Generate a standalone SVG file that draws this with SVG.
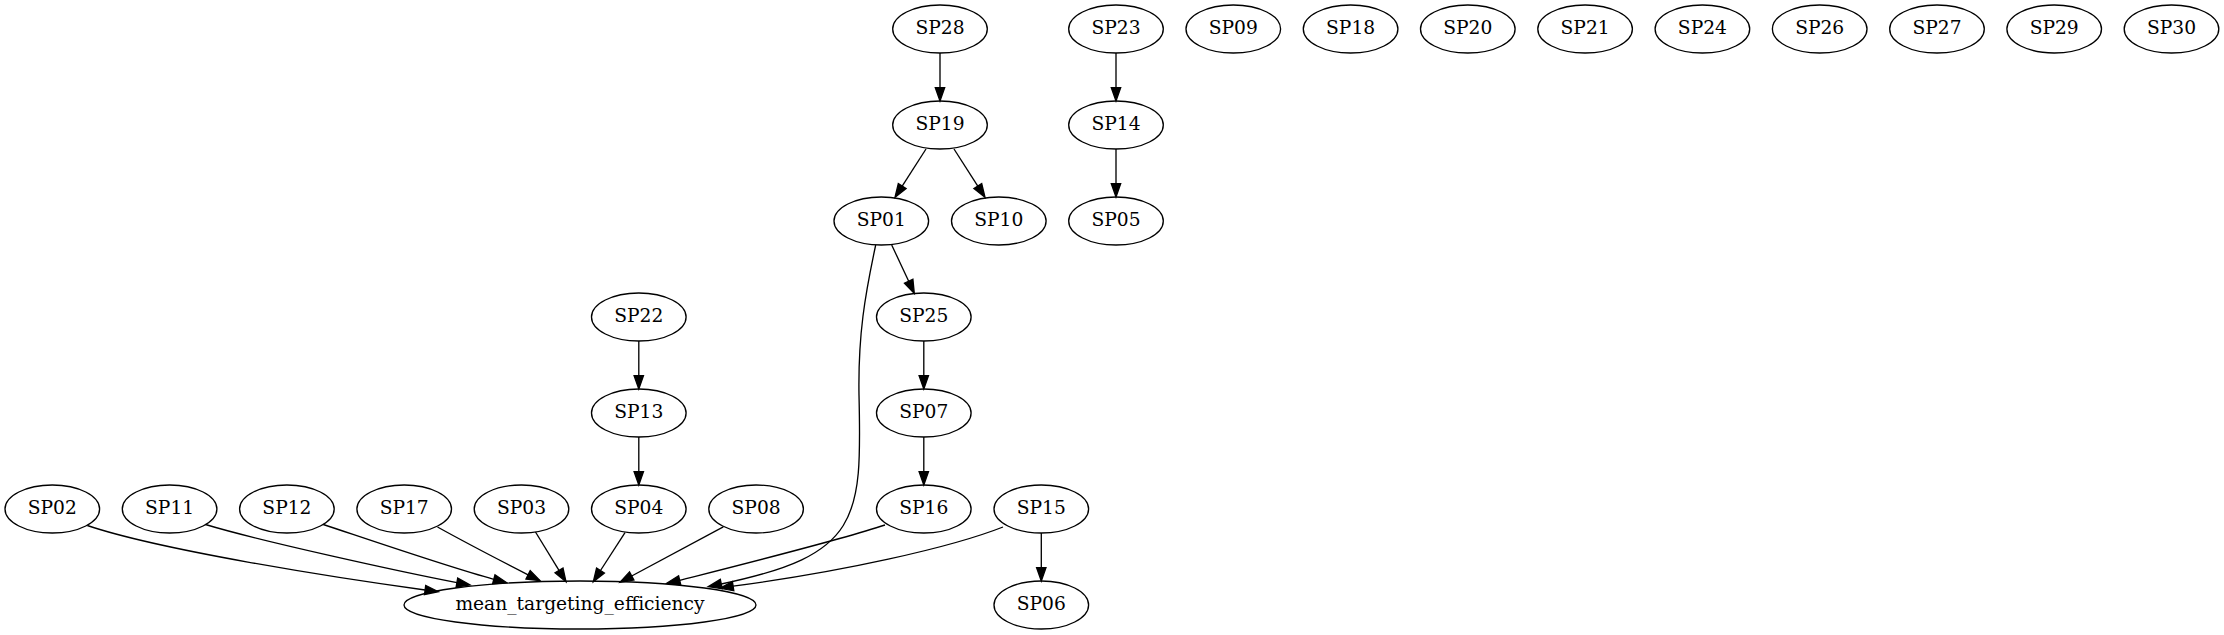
<svg xmlns="http://www.w3.org/2000/svg" width="2224" height="635" viewBox="0 0 2224 635">
<style>
.n ellipse{fill:none;stroke:#000;stroke-width:1.33}
.n text{font-family:"DejaVu Serif","Liberation Serif",serif;font-size:18.67px;text-anchor:middle;fill:#000}
#edges path{fill:none;stroke:#000;stroke-width:1.33}
#edges polygon{fill:#000;stroke:#000;stroke-width:1.33}
</style>
<rect x="0" y="0" width="2224" height="635" fill="#fff"/>
<g id="edges">
<path d="M940,53 L940,87.7"/><polygon points="935.33,87.7 940,101 944.67,87.7"/>
<path d="M1116,53 L1116,87.7"/><polygon points="1111.33,87.7 1116,101 1120.67,87.7"/>
<path d="M1116,149 L1116,183.7"/><polygon points="1111.33,183.7 1116,197 1120.67,183.7"/>
<path d="M926,149 L902.2,186.1"/><polygon points="898.3,183.6 895,197.3 906.1,188.6"/>
<path d="M954,149 L977.8,186.1"/><polygon points="973.9,188.6 985,197.3 981.7,183.6"/>
<path d="M891.7,245 L908.7,281.2"/><polygon points="904.5,283.2 914.3,293.3 912.9,279.2"/>
<path d="M875.7,245 C865,295 858,335 859,395 C862,520 860,555 721.3,584"/>
<polygon points="720.3,579.4 708.3,586.7 722.3,588.6"/>
<path d="M638.8,341 L638.8,375.7"/><polygon points="634.13,375.7 638.8,389 643.47,375.7"/>
<path d="M638.8,437 L638.8,471.7"/><polygon points="634.13,471.7 638.8,485 643.47,471.7"/>
<path d="M923.8,341 L923.8,375.7"/><polygon points="919.13,375.7 923.8,389 928.47,375.7"/>
<path d="M923.8,437 L923.8,471.7"/><polygon points="919.13,471.7 923.8,485 928.47,471.7"/>
<path d="M1041.3,533 L1041.3,567.7"/><polygon points="1036.63,567.7 1041.3,581 1045.97,567.7"/>
<path d="M87.3,525.5 C160,550 330,577 425.1,590"/><polygon points="424.5,594.6 438.3,591.7 425.7,585.4"/>
<path d="M205.5,524.5 C260,541 400,571.6 456.9,582.6"/><polygon points="456.1,587.2 470,585 457.7,578"/>
<path d="M323.3,524.5 C370,540 450,567.5 493.8,579.3"/><polygon points="492.6,583.8 506.7,582.7 495,574.8"/>
<path d="M437.5,527 C470,545 505,563 528.1,574.8"/><polygon points="526,579 540,580.7 530.2,570.6"/>
<path d="M535.5,532 L559,570.4"/><polygon points="555,572.8 566,581.7 563,568"/>
<path d="M625,532.7 L600.5,570.5"/><polygon points="596.6,568 593.3,581.7 604.4,573"/>
<path d="M723.3,526.8 L631.7,576"/><polygon points="629.5,571.9 620,582.3 633.9,580.1"/>
<path d="M885,525 C840,540 740,565 679.7,580.3"/><polygon points="678.6,575.8 666.7,583.3 680.8,584.9"/>
<path d="M1003,527 C950,548 840,572 733.1,586.2"/><polygon points="732.4,581.6 720,588.3 733.8,590.8"/>
</g>
<g id="SP28" class="n"><ellipse cx="940" cy="29" rx="47.3" ry="24"/><text x="940" y="34.3">SP28</text></g>
<g id="SP23" class="n"><ellipse cx="1116" cy="29" rx="47.3" ry="24"/><text x="1116" y="34.3">SP23</text></g>
<g id="SP09" class="n"><ellipse cx="1233.3" cy="29" rx="47.3" ry="24"/><text x="1233.3" y="34.3">SP09</text></g>
<g id="SP18" class="n"><ellipse cx="1350.6" cy="29" rx="47.3" ry="24"/><text x="1350.6" y="34.3">SP18</text></g>
<g id="SP20" class="n"><ellipse cx="1467.8" cy="29" rx="47.3" ry="24"/><text x="1467.8" y="34.3">SP20</text></g>
<g id="SP21" class="n"><ellipse cx="1585.1" cy="29" rx="47.3" ry="24"/><text x="1585.1" y="34.3">SP21</text></g>
<g id="SP24" class="n"><ellipse cx="1702.4" cy="29" rx="47.3" ry="24"/><text x="1702.4" y="34.3">SP24</text></g>
<g id="SP26" class="n"><ellipse cx="1819.7" cy="29" rx="47.3" ry="24"/><text x="1819.7" y="34.3">SP26</text></g>
<g id="SP27" class="n"><ellipse cx="1937" cy="29" rx="47.3" ry="24"/><text x="1937" y="34.3">SP27</text></g>
<g id="SP29" class="n"><ellipse cx="2054.2" cy="29" rx="47.3" ry="24"/><text x="2054.2" y="34.3">SP29</text></g>
<g id="SP30" class="n"><ellipse cx="2171.5" cy="29" rx="47.3" ry="24"/><text x="2171.5" y="34.3">SP30</text></g>
<g id="SP19" class="n"><ellipse cx="940" cy="125" rx="47.3" ry="24"/><text x="940" y="130.3">SP19</text></g>
<g id="SP14" class="n"><ellipse cx="1116" cy="125" rx="47.3" ry="24"/><text x="1116" y="130.3">SP14</text></g>
<g id="SP01" class="n"><ellipse cx="881.3" cy="221" rx="47.3" ry="24"/><text x="881.3" y="226.3">SP01</text></g>
<g id="SP10" class="n"><ellipse cx="998.8" cy="221" rx="47.3" ry="24"/><text x="998.8" y="226.3">SP10</text></g>
<g id="SP05" class="n"><ellipse cx="1116" cy="221" rx="47.3" ry="24"/><text x="1116" y="226.3">SP05</text></g>
<g id="SP22" class="n"><ellipse cx="638.8" cy="317" rx="47.3" ry="24"/><text x="638.8" y="322.3">SP22</text></g>
<g id="SP25" class="n"><ellipse cx="923.8" cy="317" rx="47.3" ry="24"/><text x="923.8" y="322.3">SP25</text></g>
<g id="SP13" class="n"><ellipse cx="638.8" cy="413" rx="47.3" ry="24"/><text x="638.8" y="418.3">SP13</text></g>
<g id="SP07" class="n"><ellipse cx="923.8" cy="413" rx="47.3" ry="24"/><text x="923.8" y="418.3">SP07</text></g>
<g id="SP02" class="n"><ellipse cx="52.3" cy="509" rx="47.3" ry="24"/><text x="52.3" y="514.3">SP02</text></g>
<g id="SP11" class="n"><ellipse cx="169.6" cy="509" rx="47.3" ry="24"/><text x="169.6" y="514.3">SP11</text></g>
<g id="SP12" class="n"><ellipse cx="286.9" cy="509" rx="47.3" ry="24"/><text x="286.9" y="514.3">SP12</text></g>
<g id="SP17" class="n"><ellipse cx="404.2" cy="509" rx="47.3" ry="24"/><text x="404.2" y="514.3">SP17</text></g>
<g id="SP03" class="n"><ellipse cx="521.5" cy="509" rx="47.3" ry="24"/><text x="521.5" y="514.3">SP03</text></g>
<g id="SP04" class="n"><ellipse cx="638.8" cy="509" rx="47.3" ry="24"/><text x="638.8" y="514.3">SP04</text></g>
<g id="SP08" class="n"><ellipse cx="756.1" cy="509" rx="47.3" ry="24"/><text x="756.1" y="514.3">SP08</text></g>
<g id="SP16" class="n"><ellipse cx="923.8" cy="509" rx="47.3" ry="24"/><text x="923.8" y="514.3">SP16</text></g>
<g id="SP15" class="n"><ellipse cx="1041.3" cy="509" rx="47.3" ry="24"/><text x="1041.3" y="514.3">SP15</text></g>
<g id="SP06" class="n"><ellipse cx="1041.3" cy="605" rx="47.3" ry="24"/><text x="1041.3" y="610.3">SP06</text></g>
<g id="mean_targeting_efficiency" class="n"><ellipse cx="580" cy="605" rx="176" ry="24"/><text x="580" y="610.3">mean_targeting_efficiency</text></g>
</svg>
